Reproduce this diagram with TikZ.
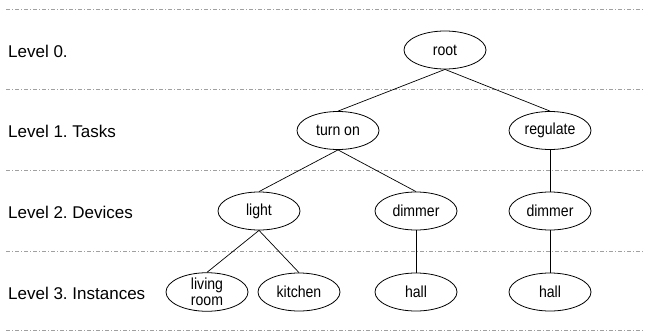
\documentclass[tikz,border=0pt]{standalone}
\usepackage{fontspec}
\usetikzlibrary{shapes.geometric}
\setmainfont{Liberation Sans}
\newfontfamily\nodefont[FakeStretch=0.88]{Liberation Sans}
\frenchspacing
\begin{document}
\begin{tikzpicture}[x=1pt,y=-1pt,
  levelline/.style={draw={rgb,255:red,160;green,160;blue,160}, line width=0.6pt, dash pattern=on 4pt off 2pt on 1pt off 2pt},
  elnode/.style={ellipse, draw, line width=0.8pt, minimum width=82pt, minimum height=38pt, inner sep=0pt, align=center, font=\nodefont\fontsize{16}{15.5}\selectfont},
  lvl/.style={anchor=base west, inner sep=0pt, font=\fontsize{17}{20}\selectfont},
  edge/.style={draw, line width=0.7pt}]
\useasboundingbox (0,0) rectangle (645,332);
% level separators
\coordinate (l0a) at (6,9.5);   \coordinate (l0b) at (645,9.5);
\coordinate (l1a) at (6,89.5);  \coordinate (l1b) at (645,89.5);
\coordinate (l2a) at (6,170.5); \coordinate (l2b) at (645,170.5);
\coordinate (l3a) at (6,251);   \coordinate (l3b) at (645,251);
\coordinate (l4a) at (6,330);   \coordinate (l4b) at (645,330);
\foreach \i in {0,...,4} {\path[levelline] (l\i a) -- (l\i b);}
% labels
\node[lvl] (lab0) at (8,57) {Level 0.};
\node[lvl] (lab1) at (8,137.5) {Level 1. Tasks};
\node[lvl] (lab2) at (8,218) {Level 2. Devices};
\node[lvl] (lab3) at (8,299) {Level 3. Instances};
% nodes
\node[elnode] (root) at (445,50) {root};
\node[elnode] (turnon) at (338,130.5) {turn on};
\node[elnode] (regulate) at (550,130.5) {regulate};
\node[elnode] (light) at (259,211) {light};
\node[elnode] (dimmerA) at (416,211) {dimmer};
\node[elnode] (dimmerB) at (550,211) {dimmer};
\node[elnode] (living) at (207,292) {living\\room};
\node[elnode] (kitchen) at (299,292) {kitchen};
\node[elnode] (hallA) at (416,292) {hall};
\node[elnode] (hallB) at (550,292) {hall};
% connectors
\path[edge] (root.south) -- (turnon.north);
\path[edge] (root.south) -- (regulate.north);
\path[edge] (turnon.south) -- (light.north);
\path[edge] (turnon.south) -- (dimmerA.north);
\path[edge] (regulate.south) -- (dimmerB.north);
\path[edge] (light.south) -- (living.north);
\path[edge] (light.south) -- (kitchen.north);
\path[edge] (dimmerA.south) -- (hallA.north);
\path[edge] (dimmerB.south) -- (hallB.north);
\end{tikzpicture}
\end{document}
